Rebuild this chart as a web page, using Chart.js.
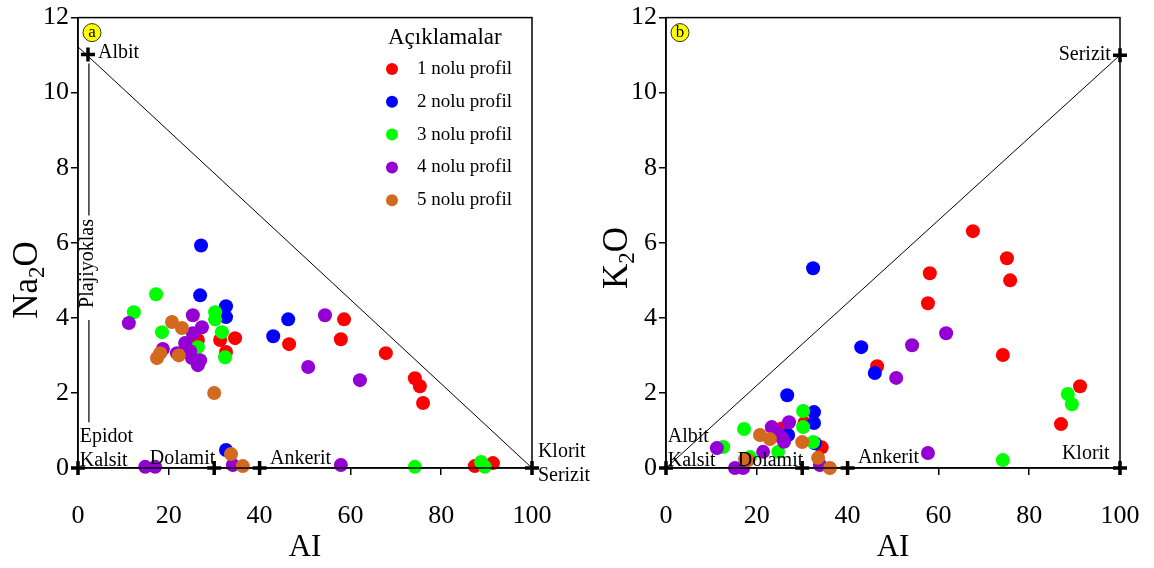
<!DOCTYPE html>
<html>
<head>
<meta charset="utf-8">
<script src="https://cdn.jsdelivr.net/npm/chart.js@4"></script>
<style>
  html, body { margin: 0; padding: 0; background: #fff; }
  #wrap { position: relative; width: 1154px; height: 568px; overflow: hidden; }
  #cA { position: absolute; left: 0; top: 0; }
  #cB { position: absolute; left: 590px; top: 0; }
</style>
</head>
<body>
<div id="wrap">
  <canvas id="cA" width="590" height="568"></canvas>
  <canvas id="cB" width="580" height="568"></canvas>
</div>
<script>
// ---- data: panel a (AI vs Na2O) ----
const profileNames = ['1 nolu profil', '2 nolu profil', '3 nolu profil', '4 nolu profil', '5 nolu profil'];
const profileColors = ['#ff0000', '#0000ff', '#00ff00', '#9400d3', '#d2691e'];

const aiA1 = [58.6, 57.9, 46.5, 67.8, 74.2, 75.3, 76.0, 26.4, 31.3, 34.6, 32.6, 87.4, 91.4];
const naA1 = [3.96, 3.43, 3.30, 3.06, 2.39, 2.18, 1.73, 3.41, 3.41, 3.46, 3.09, 0.05, 0.13];
const aiA2 = [27.1, 26.9, 32.6, 32.6, 43.0, 46.3, 32.6];
const naA2 = [5.93, 4.60, 4.31, 4.02, 3.51, 3.96, 0.48];
const aiA3 = [12.3, 17.2, 18.5, 30.2, 30.2, 31.7, 26.4, 32.4, 74.2, 88.8, 89.6];
const naA3 = [4.15, 4.63, 3.62, 4.15, 3.96, 3.62, 3.22, 2.95, 0.03, 0.16, 0.03];
const aiA4 = [11.2, 25.3, 27.3, 25.3, 18.7, 23.6, 21.8, 24.7, 25.1, 26.9, 26.4, 54.4, 50.7, 62.1, 14.8, 17.0, 34.1, 57.9];
const naA4 = [3.86, 4.07, 3.75, 3.59, 3.17, 3.33, 3.06, 3.11, 2.93, 2.87, 2.74, 4.07, 2.69, 2.34, 0.03, 0.03, 0.08, 0.08];
const aiA5 = [20.7, 22.9, 17.4, 18.1, 22.2, 30.0, 33.7, 36.3];
const naA5 = [3.89, 3.73, 2.93, 3.06, 3.00, 2.00, 0.37, 0.05];

// ---- data: panel b (AI vs K2O) ----
const aiB1 = [67.6, 75.1, 75.8, 58.1, 57.7, 74.2, 91.2, 87.0, 46.5, 30.5, 34.3, 25.5];
const kB1 = [6.31, 5.59, 5.00, 5.19, 4.39, 3.01, 2.18, 1.17, 2.71, 1.20, 0.55, 1.05];
const aiB2 = [32.4, 43.0, 46.0, 26.7, 32.6, 32.6, 26.9, 32.8];
const kB2 = [5.32, 3.22, 2.53, 1.94, 1.49, 1.20, 0.88, 0.66];
const aiB3 = [88.5, 89.4, 74.2, 30.2, 30.2, 17.2, 12.6, 32.4, 18.5, 24.7];
const kB3 = [1.97, 1.70, 0.21, 1.52, 1.09, 1.04, 0.56, 0.69, 0.29, 0.43];
const aiB4 = [61.7, 54.2, 50.7, 57.7, 11.2, 15.2, 17.0, 23.3, 27.1, 25.6, 21.4, 33.9, 24.5, 26.0];
const kB4 = [3.59, 3.27, 2.40, 0.40, 0.53, 0.00, 0.00, 1.09, 1.22, 0.80, 0.43, 0.08, 0.95, 0.70];
const aiB5 = [20.7, 22.9, 30.0, 33.5, 36.1, 18.1, 17.4];
const kB5 = [0.88, 0.77, 0.69, 0.27, 0.00, 0.21, 0.24];

// end members (crosses) and reference lines
const endAIa = [0, 30, 40, 100, 2.2];
const endNa = [0, 0, 0, 0, 11.02];
const endAIb = [0, 30, 40, 100, 100];
const endK = [0, 0, 0, 0, 11];
const diagA = [[0, 11.22], [100, 0]];
const plagTop = [[2.4, 10.78], [2.4, 6.73]];
const plagBottom = [[2.4, 3.94], [2.4, 1.22]];
const diagB = [[0, 0], [100, 11]];

const xTicks = [0, 20, 40, 60, 80, 100];
const yTicks = [0, 2, 4, 6, 8, 10, 12];

const SERIF = "'Liberation Serif', 'DejaVu Serif', serif";

function pts(xs, ys) {
    return xs.map((x, i) => ({ x: x, y: ys[i] }));
}

function profileSets(xsList, ysList) {
    return xsList.map((xs, i) => ({
        label: profileNames[i],
        data: pts(xs, ysList[i]),
        backgroundColor: profileColors[i],
        borderWidth: 0,
        pointRadius: 7,
        order: 5 - i,
        clip: false
    }));
}

function lineSet(pairs, color, width) {
    return {
        type: 'line',
        data: pairs.map(p => ({ x: p[0], y: p[1] })),
        borderColor: color,
        borderWidth: width,
        pointRadius: 0,
        showLine: true,
        fill: false,
        order: 20,
        clip: false
    };
}

function crossSet(xs, ys) {
    return {
        data: pts(xs, ys),
        pointStyle: 'cross',
        pointRadius: 7,
        borderColor: '#000',
        backgroundColor: '#000',
        borderWidth: 3.5,
        order: 0,
        clip: false
    };
}

// frame, axis titles, text labels, legend
const decorPlugin = {
    id: 'decor',
    afterDraw(chart, args, opts) {
        const ctx = chart.ctx;
        const a = chart.chartArea;
        const xs = chart.scales.x, ys = chart.scales.y;
        ctx.save();
        ctx.strokeStyle = '#000';
        ctx.lineWidth = 1.5;
        ctx.strokeRect(a.left, a.top, a.right - a.left, a.bottom - a.top);

        ctx.fillStyle = '#000';
        // x title
        ctx.font = '31px ' + SERIF;
        ctx.textAlign = 'center';
        ctx.textBaseline = 'middle';
        ctx.fillText('AI', (a.left + a.right) / 2, 548);

        // y title with subscript
        ctx.save();
        ctx.translate(opts.yTitleX, opts.yTitleY);
        ctx.rotate(-Math.PI / 2);
        ctx.textBaseline = 'alphabetic';
        ctx.textAlign = 'left';
        const big = '35px ' + SERIF, small = '23px ' + SERIF;
        ctx.font = big;
        const w1 = ctx.measureText(opts.yMain).width;
        const w3 = ctx.measureText('O').width;
        ctx.font = small;
        const w2 = ctx.measureText('2').width;
        let sx = -(w1 + w2 + w3) / 2;
        const base = 12;
        ctx.font = big;
        ctx.fillText(opts.yMain, sx, base);
        sx += w1;
        ctx.font = small;
        ctx.fillText('2', sx, base + 7);
        sx += w2;
        ctx.font = big;
        ctx.fillText('O', sx, base);
        ctx.restore();

        // annotations
        ctx.font = '20px ' + SERIF;
        ctx.textBaseline = 'middle';
        opts.labels.forEach(l => {
            ctx.textAlign = l.align || 'left';
            ctx.fillText(l.text, xs.getPixelForValue(l.x) + (l.dx || 0), ys.getPixelForValue(l.y) + (l.dy || 0));
        });
        if (opts.rotLabel) {
            const r = opts.rotLabel;
            ctx.save();
            ctx.translate(xs.getPixelForValue(r.x), ys.getPixelForValue(r.y));
            ctx.rotate(-Math.PI / 2);
            ctx.textAlign = 'center';
            ctx.fillText(r.text, 0, 0);
            ctx.restore();
        }

        // panel letter
        const cx = a.left + opts.badge.dx, cy = a.top + opts.badge.dy;
        ctx.beginPath();
        ctx.arc(cx, cy, 9, 0, Math.PI * 2);
        ctx.fillStyle = '#ffff00';
        ctx.fill();
        ctx.lineWidth = 0.8;
        ctx.strokeStyle = '#000';
        ctx.stroke();
        ctx.fillStyle = '#000';
        ctx.font = '17px ' + SERIF;
        ctx.textAlign = 'center';
        ctx.fillText(opts.badge.text, cx, cy);

        // legend
        if (opts.legend) {
            const lg = opts.legend;
            ctx.font = '23px ' + SERIF;
            ctx.textAlign = 'left';
            ctx.fillText('Açıklamalar', lg.x, lg.y);
            ctx.font = '19px ' + SERIF;
            profileNames.forEach((name, i) => {
                const yy = lg.y + 31 + i * 32.8;
                ctx.beginPath();
                ctx.arc(lg.x + 4, yy, 6, 0, Math.PI * 2);
                ctx.fillStyle = profileColors[i];
                ctx.fill();
                ctx.fillStyle = '#000';
                ctx.fillText(name, lg.x + 29, yy);
            });
        }
        ctx.restore();
    }
};

function makeChart(id, datasets, axisWidth, rightPad, decor) {
    return new Chart(document.getElementById(id), {
        type: 'scatter',
        data: { datasets: datasets },
        options: {
            responsive: false,
            animation: false,
            devicePixelRatio: 1,
            layout: { padding: { left: 0, right: rightPad, top: 17, bottom: 0 } },
            scales: {
                x: {
                    type: 'linear', min: 0, max: 100,
                    afterBuildTicks: s => { s.ticks = xTicks.map(v => ({ value: v })); },
                    afterFit: s => { s.height = 100; },
                    grid: { drawOnChartArea: false, drawTicks: true, tickLength: 7, color: '#000', lineWidth: 1.5 },
                    border: { display: true, color: '#000', width: 1.5 },
                    ticks: { color: '#000', font: { family: SERIF, size: 26 }, padding: 26, maxRotation: 0 }
                },
                y: {
                    type: 'linear', min: 0, max: 12,
                    afterBuildTicks: s => { s.ticks = yTicks.map(v => ({ value: v })); },
                    afterFit: s => { s.width = axisWidth; },
                    grid: { drawOnChartArea: false, drawTicks: true, tickLength: 7, color: '#000', lineWidth: 1.5 },
                    border: { display: true, color: '#000', width: 1.5 },
                    ticks: { color: '#000', font: { family: SERIF, size: 26 }, padding: 2 }
                }
            },
            plugins: {
                legend: { display: false },
                tooltip: { enabled: false },
                decor: decor
            }
        },
        plugins: [decorPlugin]
    });
}

makeChart('cA', [
    ...profileSets([aiA1, aiA2, aiA3, aiA4, aiA5], [naA1, naA2, naA3, naA4, naA5]),
    crossSet(endAIa, endNa),
    lineSet(diagA, '#000', 1),
    lineSet(plagTop, '#333', 1.5),
    lineSet(plagBottom, '#333', 1.5)
], 78, 58, {
    yTitleX: 25,
    yTitleY: 280,
    yMain: 'Na',
    badge: { text: 'a', dx: 14, dy: 15 },
    rotLabel: { text: 'Plajiyoklas', x: 2.2, y: 5.45 },
    labels: [
        { text: 'Albit', x: 4.4, y: 11.07 },
        { text: 'Epidot', x: 0.4, y: 0.82 },
        { text: 'Kalsit', x: 0.4, y: 0.2 },
        { text: 'Dolamit', x: 15.8, y: 0.25 },
        { text: 'Ankerit', x: 42.3, y: 0.25 },
        { text: 'Klorit', x: 101.3, y: 0.43 },
        { text: 'Serizit', x: 101.3, y: -0.2 }
    ],
    legend: { x: 388, y: 38 }
});

makeChart('cB', [
    ...profileSets([aiB1, aiB2, aiB3, aiB4, aiB5], [kB1, kB2, kB3, kB4, kB5]),
    crossSet(endAIb, endK),
    lineSet(diagB, '#000', 1)
], 76, 50, {
    yTitleX: 25,
    yTitleY: 258,
    yMain: 'K',
    badge: { text: 'b', dx: 14, dy: 15 },
    labels: [
        { text: 'Serizit', x: 98.0, y: 11.0, align: 'right' },
        { text: 'Albit', x: 0.4, y: 0.82 },
        { text: 'Kalsit', x: 0.4, y: 0.2 },
        { text: 'Dolamit', x: 15.8, y: 0.2 },
        { text: 'Ankerit', x: 42.3, y: 0.27 },
        { text: 'Klorit', x: 87.2, y: 0.38 }
    ]
});
</script>
</body>
</html>
